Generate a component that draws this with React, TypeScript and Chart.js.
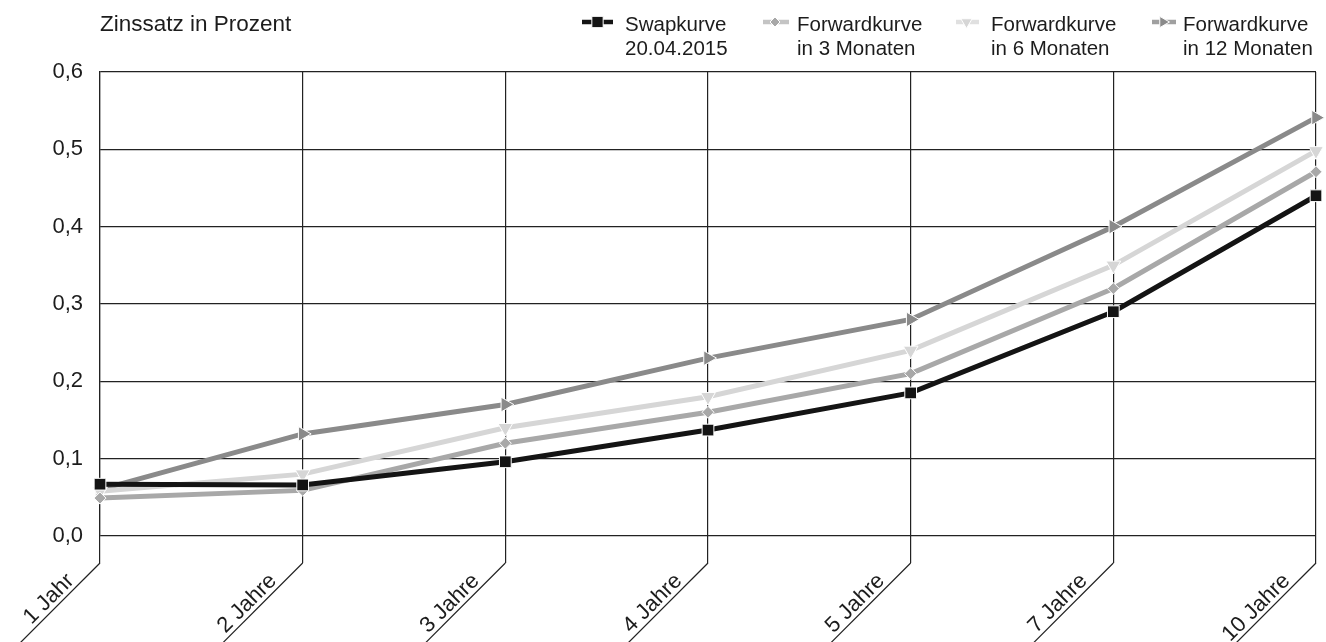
import React, { useEffect, useRef } from "react";
import { Chart, registerables } from "chart.js";

Chart.register(...registerables);

const categories = ["1 Jahr", "2 Jahre", "3 Jahre", "4 Jahre", "5 Jahre", "7 Jahre", "10 Jahre"];
const swapkurve = [0.067, 0.066, 0.096, 0.137, 0.185, 0.29, 0.44];
const forward3 = [0.049, 0.059, 0.12, 0.16, 0.21, 0.32, 0.471];
const forward6 = [0.058, 0.08, 0.14, 0.18, 0.24, 0.35, 0.498];
const forward12 = [0.06, 0.132, 0.17, 0.23, 0.28, 0.4, 0.541];
const legendLabels = [
  ["Swapkurve", "20.04.2015"],
  ["Forwardkurve", "in 3 Monaten"],
  ["Forwardkurve", "in 6 Monaten"],
  ["Forwardkurve", "in 12 Monaten"],
];
const yTitle = "Zinssatz in Prozent";
const yMin = 0;
const yMax = 0.6;
const yStep = 0.1;

const FONT = "'Liberation Sans', Arial, sans-serif";
const TEXT = "#1c1c1c";
const GRID = "#222222";

function drawMarker(ctx: CanvasRenderingContext2D, style: string, rot: number, x: number, y: number, r: number, fill: string) {
  ctx.save();
  ctx.translate(x, y);
  ctx.rotate((rot * Math.PI) / 180);
  ctx.fillStyle = fill;
  ctx.strokeStyle = "#ffffff";
  ctx.lineWidth = 1;
  ctx.beginPath();
  if (style === "rect") {
    const s = r * Math.SQRT1_2;
    ctx.rect(-s, -s, 2 * s, 2 * s);
  } else if (style === "rectRot") {
    ctx.moveTo(0, -r);
    ctx.lineTo(r, 0);
    ctx.lineTo(0, r);
    ctx.lineTo(-r, 0);
    ctx.closePath();
  } else {
    ctx.moveTo(0, -r);
    ctx.lineTo(r * 0.866, r * 0.5);
    ctx.lineTo(-r * 0.866, r * 0.5);
    ctx.closePath();
  }
  ctx.fill();
  ctx.stroke();
  ctx.restore();
}

const decorPlugin = {
  id: "decor",
  afterDraw(chart: any) {
    const { ctx, chartArea, scales } = chart;
    const x = scales.x;
    ctx.save();
    // diagonal tick extensions and rotated labels
    const top = chartArea.bottom + 27;
    ctx.strokeStyle = GRID;
    ctx.lineWidth = 1.2;
    categories.forEach((lab, i) => {
      const px = x.getPixelForValue(i);
      ctx.beginPath();
      ctx.moveTo(px, top);
      ctx.lineTo(px - 90, top + 90);
      ctx.stroke();
      const t = 22;
      const g = 4.5;
      ctx.save();
      ctx.translate(px - t - g * Math.SQRT1_2, top + t - g * Math.SQRT1_2);
      ctx.rotate(-Math.PI / 4);
      ctx.fillStyle = TEXT;
      ctx.font = `22px ${FONT}`;
      ctx.textAlign = "right";
      ctx.textBaseline = "alphabetic";
      ctx.fillText(lab, 0, 0);
      ctx.restore();
    });
    // y axis title
    ctx.fillStyle = TEXT;
    ctx.font = `22.5px ${FONT}`;
    ctx.textAlign = "left";
    ctx.textBaseline = "alphabetic";
    ctx.fillText(yTitle, 100, 31);
    // legend
    const items = [
      { sx: 582, ex: 613, tx: 625 },
      { sx: 763, ex: 789, tx: 797 },
      { sx: 956, ex: 979, tx: 991 },
      { sx: 1152, ex: 1176, tx: 1183 },
    ];
    chart.data.datasets.forEach((ds: any, i: number) => {
      const it = items[i];
      const cy = 22;
      ctx.strokeStyle = ds.legendLine;
      ctx.lineWidth = 4.5;
      ctx.beginPath();
      ctx.moveTo(it.sx, cy);
      ctx.lineTo(it.ex, cy);
      ctx.stroke();
      drawMarker(ctx, ds.pointStyle, ds.pointRotation || 0, (it.sx + it.ex) / 2 + (i === 0 ? 0 : -1), cy, ds.legendRadius, ds.pointBackgroundColor);
      ctx.fillStyle = TEXT;
      ctx.font = `20.5px ${FONT}`;
      ctx.textAlign = "left";
      ctx.textBaseline = "alphabetic";
      ctx.fillText(legendLabels[i][0], it.tx, 31);
      ctx.fillText(legendLabels[i][1], it.tx, 55);
    });
    ctx.restore();
  },
};

export default function App() {
  const ref = useRef<HTMLCanvasElement | null>(null);
  useEffect(() => {
    if (!ref.current) return;
    const mk = (label: string, data: number[], color: string, legendLine: string, style: string, rot: number, r: number, legendRadius: number) => ({
      label,
      data,
      borderColor: color,
      backgroundColor: color,
      pointBackgroundColor: color,
      pointBorderColor: "#ffffff",
      pointBorderWidth: 1,
      pointStyle: style,
      pointRotation: rot,
      pointRadius: r,
      pointHoverRadius: r,
      borderWidth: 5,
      tension: 0,
      legendLine,
      legendRadius,
    });
    const chart = new Chart(ref.current, {
      type: "line",
      data: {
        labels: categories,
        datasets: [
          mk("Swapkurve 20.04.2015", swapkurve, "#141414", "#141414", "rect", 0, 8.3, 8),
          mk("Forwardkurve in 3 Monaten", forward3, "#a8a8a8", "#c4c4c4", "rectRot", 0, 6, 5),
          mk("Forwardkurve in 6 Monaten", forward6, "#d6d6d6", "#e0e0e0", "triangle", 180, 8.5, 6.5),
          mk("Forwardkurve in 12 Monaten", forward12, "#8a8a8a", "#a0a0a0", "triangle", 90, 8.5, 6.5),
        ] as any,
      },
      options: {
        animation: false,
        responsive: false,
        devicePixelRatio: 1,
        layout: { padding: { top: 72, right: 10, left: 0, bottom: 0 } },
        plugins: { legend: { display: false }, tooltip: { enabled: false }, title: { display: false } },
        scales: {
          x: {
            type: "category",
            offset: false,
            grid: { color: GRID, lineWidth: 1.2, drawTicks: true, tickLength: 27, tickColor: GRID },
            border: { display: false },
            ticks: { display: false },
            afterFit: (s: any) => {
              s.height = 106;
            },
          },
          y: {
            min: yMin,
            max: yMax,
            grid: { color: GRID, lineWidth: 1.2, drawTicks: false },
            border: { display: true, color: GRID, width: 1.2 },
            ticks: {
              stepSize: yStep,
              padding: 17,
              color: TEXT,
              font: { family: FONT, size: 22 },
              callback: (v: any) => Number(v).toFixed(1).replace(".", ","),
            },
            afterFit: (s: any) => {
              s.width = 100;
            },
          },
        },
      } as any,
      plugins: [decorPlugin],
    });
    return () => chart.destroy();
  }, []);
  return (
    <div style={{ position: "absolute", left: 0, top: 0, width: 1326, height: 642, background: "#fff" }}>
      <canvas ref={ref} width={1326} height={642} style={{ width: 1326, height: 642, display: "block" }} />
    </div>
  );
}
